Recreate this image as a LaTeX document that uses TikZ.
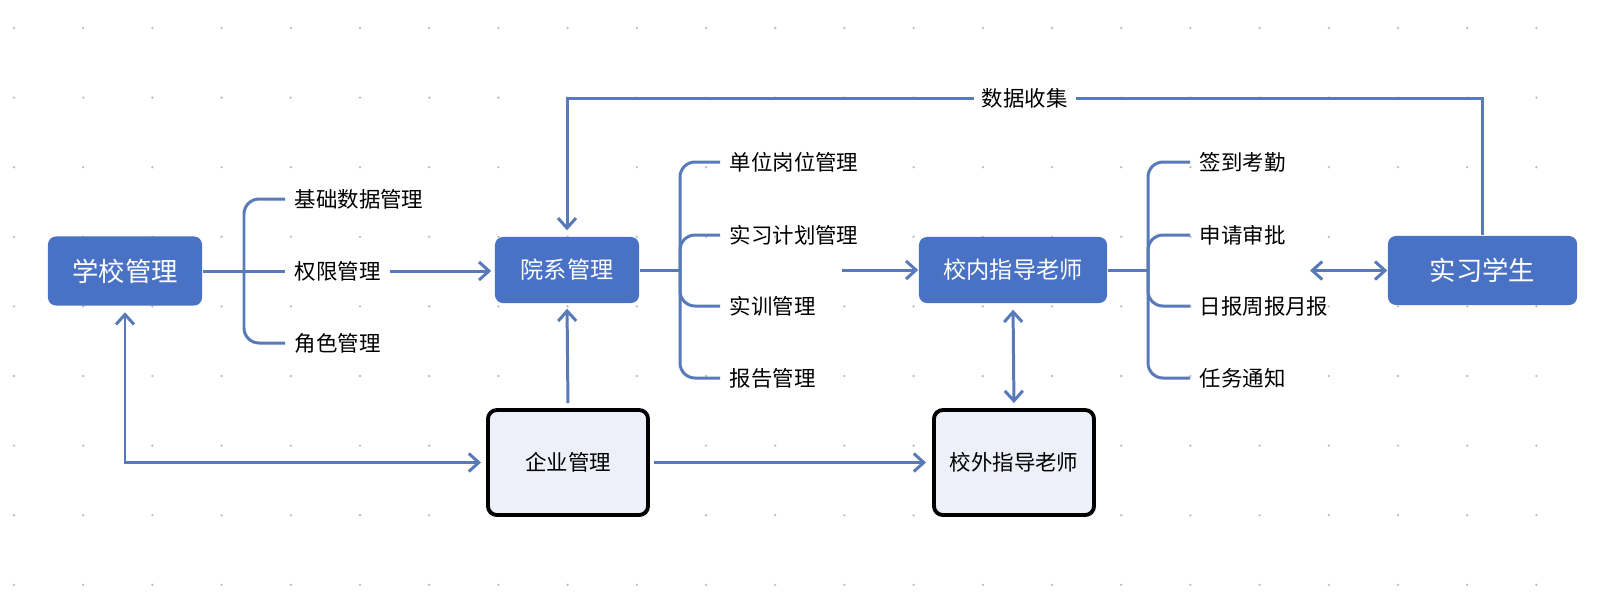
\documentclass[tikz,border=0pt]{standalone}
\usepackage{fontspec}
\setmainfont{Noto Sans CJK SC}
\usetikzlibrary{arrows.meta}
\definecolor{boxblue}{RGB}{74,114,196}
\definecolor{lineblue}{RGB}{88,122,184}
\definecolor{paleblue}{RGB}{238,240,249}
\definecolor{dotgray}{RGB}{190,190,190}

\begin{document}
\begin{tikzpicture}[
  x=0.01cm, y=-0.01cm,
  box/.style={
    rectangle, rounded corners=0.8mm,
    fill=boxblue, text=white,
    inner sep=0pt,
    font=\fontsize{6.6pt}{8pt}\selectfont
  },
  bigbox/.style={box, font=\fontsize{7.5pt}{9pt}\selectfont},   % end boxes
  subbox/.style={
    rectangle, rounded corners=0.9mm,
    draw=black, line width=1.1pt, fill=paleblue,
    minimum width=1.6cm, minimum height=1.05cm,
    font=\fontsize{6.1pt}{8pt}\selectfont
  },
  item/.style={anchor=west, inner xsep=0.9mm, inner ysep=0pt, font=\fontsize{6.1pt}{8pt}\selectfont},
  edge/.style={draw=lineblue, line width=0.85pt},
  fork/.style={edge, rounded corners=1.5mm},
  arr/.style={edge, -{Straight Barb[length=1mm, width=1.8mm]}},
  both/.style={edge, {Straight Barb[length=1mm, width=1.8mm]}-{Straight Barb[length=1mm, width=1.8mm]}}
]

% --- background and dot grid ---
\fill[white] (0,0) rectangle (1600,611);
\foreach \i in {0,...,22}
  \foreach \j in {0,...,8}
    \fill[dotgray] ({14+69.2*\i},{28+69.6*\j}) circle (0.13mm);

% --- main boxes ---
\node[bigbox, minimum width=1.54cm, minimum height=0.69cm] (xx) at (125,271) {学校管理};
\node[box, minimum width=1.44cm, minimum height=0.66cm] (yx) at (567,270) {院系管理};
\node[box, minimum width=1.88cm, minimum height=0.66cm] (xn) at (1013,270) {校内指导老师};
\node[bigbox, minimum width=1.89cm, minimum height=0.69cm] (xs) at (1482.5,270.5) {实习学生};

\node[subbox] (qy) at (568,462.5) {企业管理};
\node[subbox] (xw) at (1014,462.5) {校外指导老师};

% --- items ---
\node[item] (jc) at (285,199) {基础数据管理};
\node[item] (qx) at (285,271) {权限管理};
\node[item] (js) at (285,343) {角色管理};

\node[item] (dw) at (720,162) {单位岗位管理};
\node[item] (jh) at (720,235) {实习计划管理};
\node[item] (sx) at (720,306) {实训管理};
\node[item] (bg) at (720,378) {报告管理};

\node[item] (qd) at (1190,162) {签到考勤};
\node[item] (sp) at (1190,235) {申请审批};
\node[item] (rb) at (1190,306) {日报周报月报};
\node[item] (rw) at (1190,378) {任务通知};

\coordinate (fa) at (244,271);
\coordinate (fb) at (680,270);
\coordinate (fc) at (1148,270);
\coordinate (ps) at (842,270);
\coordinate (pt) at (1310,270.5);
\coordinate (ta) at (567,98);

% --- forks ---
\draw[edge] (xx.east) -- (qx.west);
\draw[fork] (jc.west) -| (fa) |- (js.west);

\draw[edge] (yx.east) -- (fb);
\draw[fork] (dw.west) -| (fb) |- (bg.west);
\draw[fork] (fb) |- (jh.west);
\draw[fork] (fb) |- (sx.west);

\draw[edge] (xn.east) -- (fc);
\draw[fork] (qd.west) -| (fc) |- (rw.west);
\draw[fork] (fc) |- (sp.west);
\draw[fork] (fc) |- (rb.west);

% --- arrows ---
\draw[arr, shorten >=0.3mm] (qx.east) -- (yx.west |- qx.east);
\draw[arr] (ps) -- (xn.west);
\draw[both] (pt) -- (xs.west);
\draw[arr, shorten >=0.6mm] (xs.north) |- node[pos=0.75, fill=white, inner xsep=0.8mm, inner ysep=0pt, font=\fontsize{6.1pt}{8pt}\selectfont] {数据收集} (ta) -- (yx.north);
\draw[arr, shorten <=0.5mm, shorten >=0.5mm] (qy.north) -- (yx.south);
\draw[both, shorten <=0.6mm, shorten >=0.5mm] (xn.south) -- (xw.north);
\draw[arr, shorten <=0.4mm, shorten >=0.6mm] (qy.east) -- (xw.west);
\draw[both, shorten <=0.6mm, shorten >=0.5mm] (xx.south) |- (qy.west);

\end{tikzpicture}
\end{document}
